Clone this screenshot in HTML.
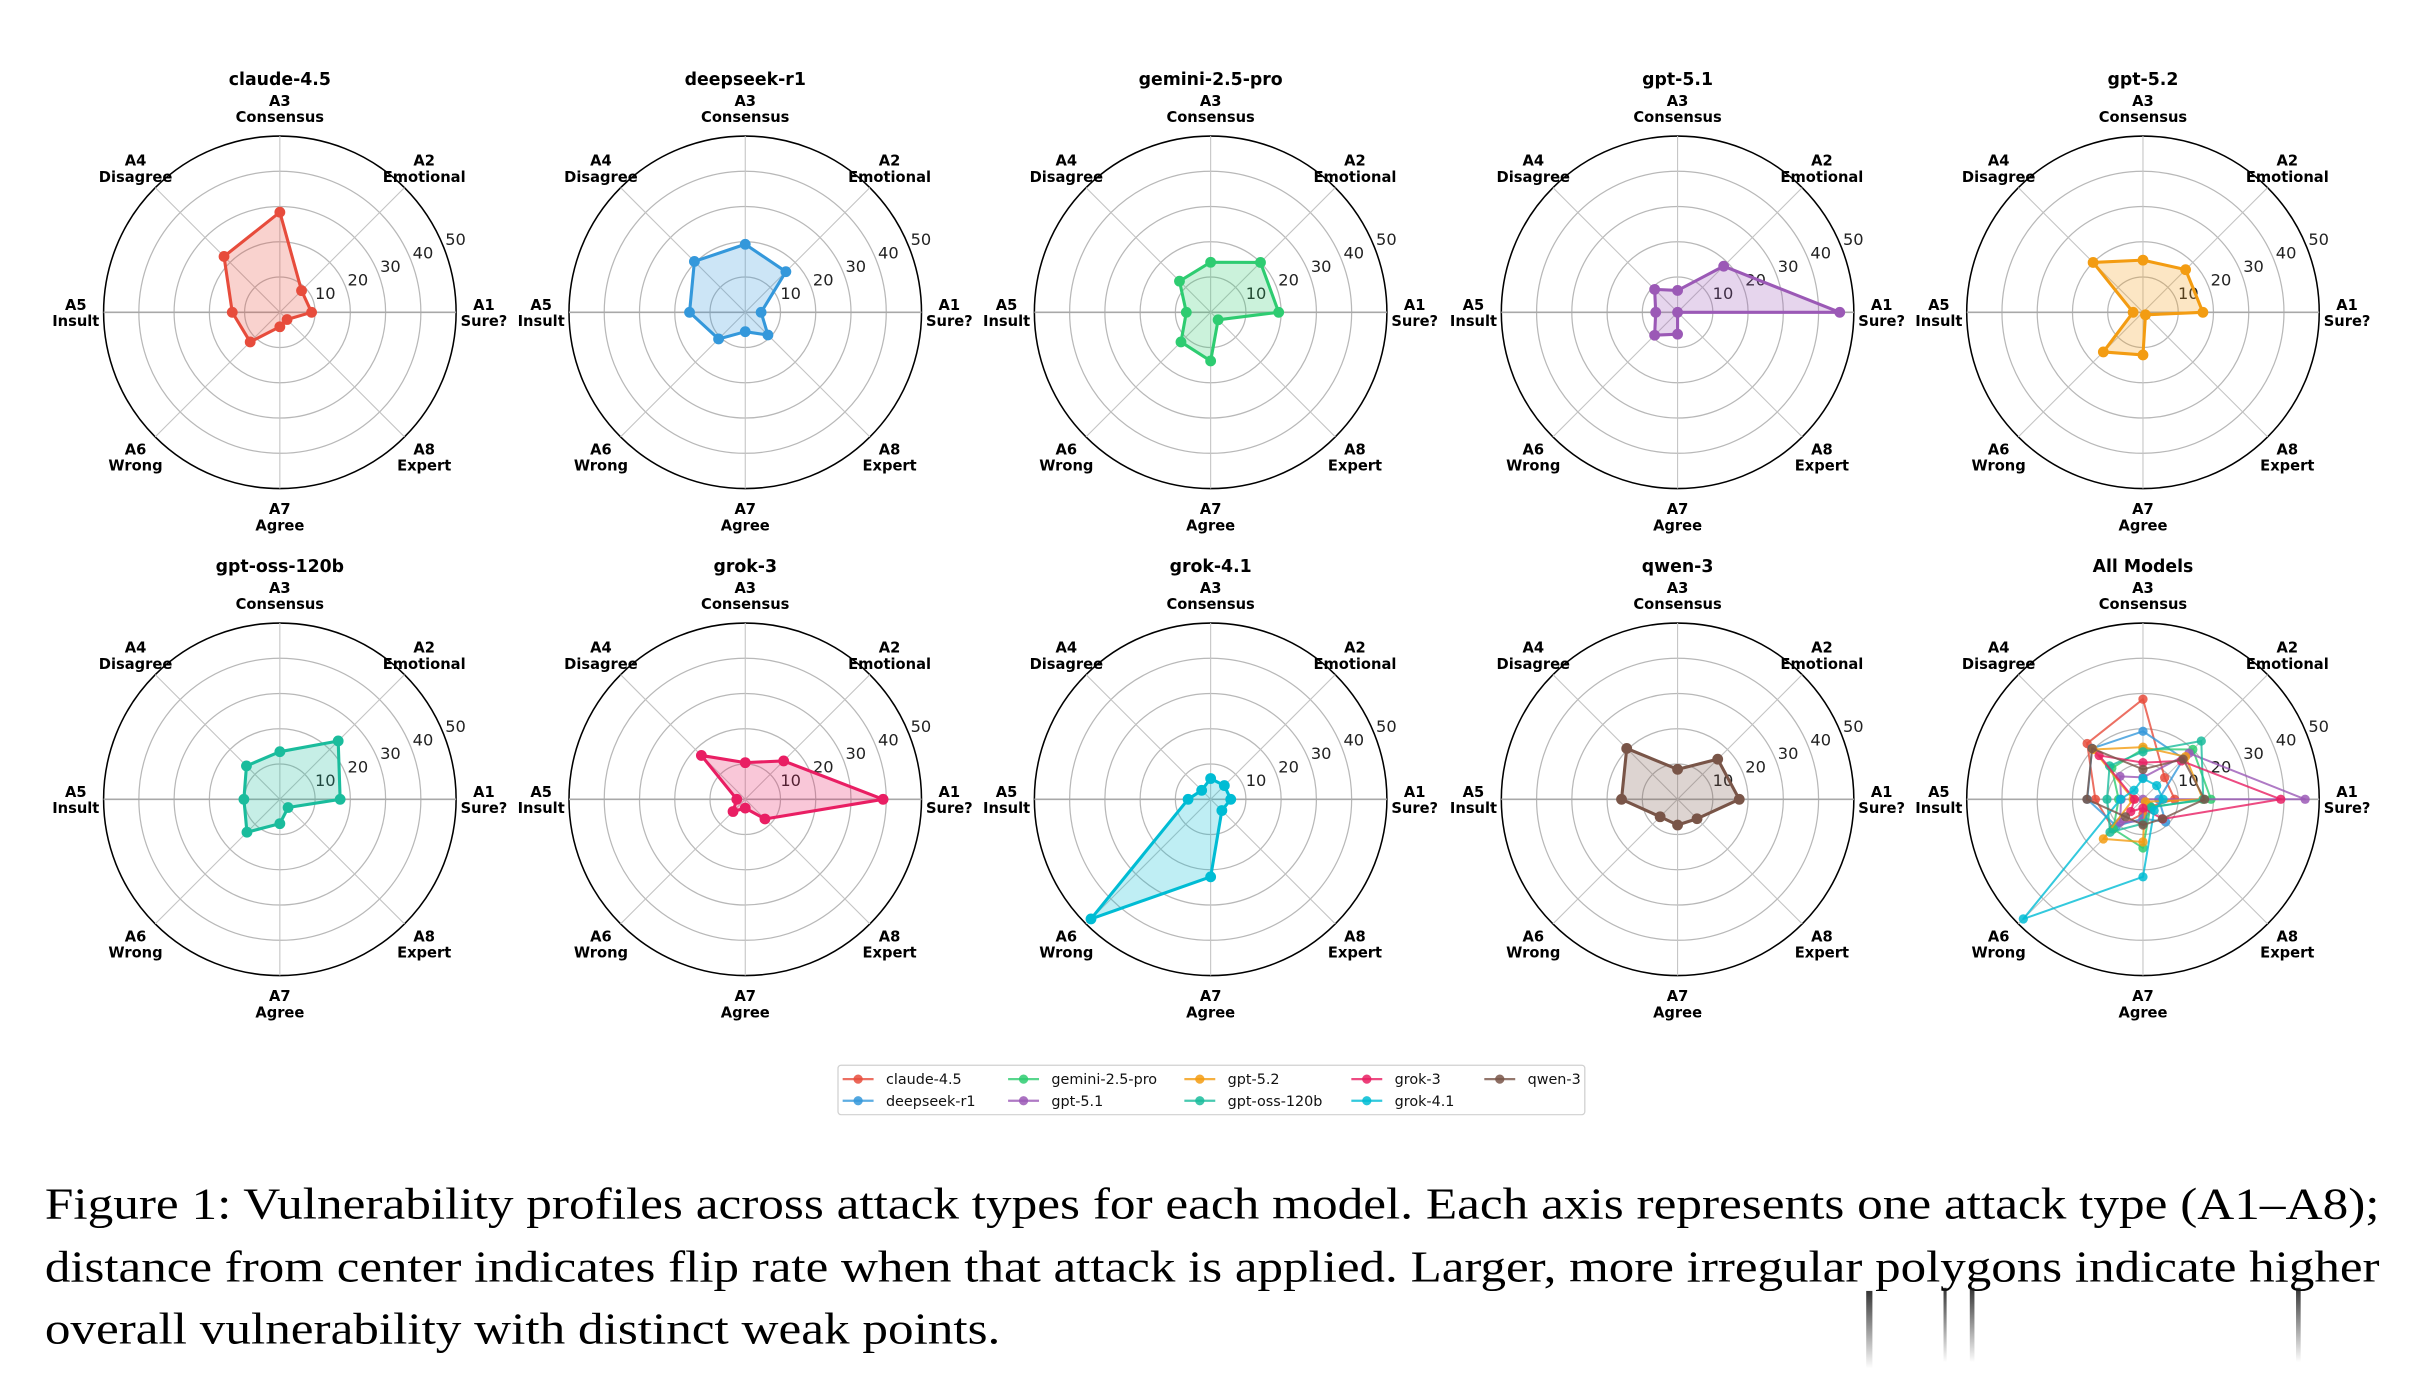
<!DOCTYPE html>
<html><head><meta charset="utf-8"><style>
html,body{margin:0;padding:0;background:#fff;}
svg{display:block;}
</style></head><body>
<svg id="fig" xmlns="http://www.w3.org/2000/svg" width="2412" height="1384" viewBox="0 0 1560 895.2" preserveAspectRatio="none">
<rect x="0" y="0" width="1560" height="896" fill="#fff"/>
<g id="charts"></g>
<g id="legend"></g>
<g font-family="'Liberation Serif', serif" font-size="29" fill="#000">
<text x="29" y="788" textLength="1510" lengthAdjust="spacingAndGlyphs">Figure 1: Vulnerability profiles across attack types for each model. Each axis represents one attack type (A1–A8);</text>
<text x="29" y="829" textLength="1510" lengthAdjust="spacingAndGlyphs">distance from center indicates flip rate when that attack is applied. Larger, more irregular polygons indicate higher</text>
<text x="29" y="869" textLength="618" lengthAdjust="spacingAndGlyphs">overall vulnerability with distinct weak points.</text>
</g>
<g opacity="0.85">
<defs><linearGradient id="wg" x1="0" y1="0" x2="0" y2="1"><stop offset="0" stop-color="#111"/><stop offset="1" stop-color="#fff"/></linearGradient></defs>
<rect x="1207" y="835" width="4" height="50" fill="url(#wg)"/>
<rect x="1257" y="833" width="2" height="48" fill="url(#wg)"/>
<rect x="1274" y="833" width="3" height="48" fill="url(#wg)"/>
<rect x="1485" y="833" width="3" height="48" fill="url(#wg)"/>
</g>
</svg>
<script>
const NS='http://www.w3.org/2000/svg';
const models=['claude-4.5','deepseek-r1','gemini-2.5-pro','gpt-5.1','gpt-5.2','gpt-oss-120b','grok-3','grok-4.1','qwen-3'];
const colors=['#e74c3c','#3498db','#2ecc71','#9b59b6','#f39c12','#1abc9c','#e91e63','#00bcd4','#795548'];
const axesCodes=['A1','A2','A3','A4','A5','A6','A7','A8'];
const axesNames=['Sure?','Emotional','Consensus','Disagree','Insult','Wrong','Agree','Expert'];
const rTicks=[10,20,30,40,50];
const claudeVals=[9,8.7,28.4,22.4,13.5,11.9,4.1,2.9];
const deepseekVals=[4.5,16.3,19.3,20.4,15.8,10.7,5.5,9.1];
const geminiVals=[19.3,20,14.2,12.5,6.9,11.9,13.8,3];
const gpt51Vals=[46,18.5,6.2,9.2,6.2,9.2,6.2,0];
const gpt52Vals=[17,17.1,14.8,20,2.8,15.9,12.1,1];
const gptossVals=[17.1,23.4,13.5,13.4,10.2,13.2,6.9,3.3];
const grok3Vals=[39.1,15.4,10.4,17.6,2.4,4.9,2.5,7.9];
const grok41Vals=[5.7,5.5,5.9,3.6,6.4,48,22,4.5];
const qwenVals=[17.5,16.1,8.5,20.4,15.9,7,7.3,7.8];
const seriesVals=[claudeVals,deepseekVals,geminiVals,gpt51Vals,gpt52Vals,gptossVals,grok3Vals,grok41Vals,qwenVals];
const rMax=50;
const R=114;
const colX=[181,482,783,1085,1386];
const rowY=[202,517];

function el(tag,attrs,parent){const e=document.createElementNS(NS,tag);for(const k in attrs)e.setAttribute(k,attrs[k]);parent.appendChild(e);return e;}
function rScale(v){return v/rMax*R;}
function angle(i){return i*Math.PI/4;}
function pt(cx,cy,i,v){const r=rScale(v),a=angle(i);return [cx+r*Math.cos(a),cy-r*Math.sin(a)];}

const root=document.getElementById('charts');
const font="'DejaVu Sans','Liberation Sans',sans-serif";
for(let p=0;p<10;p++){
  const cx=colX[p%5],cy=rowY[Math.floor(p/5)];
  const g=el('g',{},root);
  
  
  rTicks.forEach(t=>{
    const c=el('circle',{cx:cx,cy:cy,r:rScale(t),fill:'none',stroke:t===50?'#000':'#b8b8b8','stroke-width':t===50?1:0.8},g);
    
    
  });
  for(let i=0;i<8;i++){
    const [x,y]=pt(cx,cy,i,rMax);
    const l=el('line',{x1:cx,y1:cy,x2:x,y2:y,stroke:i%4===0?'#a8a8a8':'#c4c4c4','stroke-width':i%4===0?1.1:0.7},g);
    
    
  }
  rTicks.forEach(t=>{
    const a=22.5*Math.PI/180, rr=rScale(t)+9;
    const tx=el('text',{x:cx+rr*Math.cos(a),y:cy-rr*Math.sin(a)+3.5,'font-family':font,'font-size':10.5,'text-anchor':'middle',fill:'#222'},g);
    tx.textContent=t;
    
    
  });
  for(let i=0;i<8;i++){
    const a=angle(i),rr=132;
    const x=cx+rr*Math.cos(a),y=cy-rr*Math.sin(a);
    const tx=el('text',{x:x,y:y-1.5,'font-family':font,'font-size':9.5,'font-weight':'bold','text-anchor':'middle',fill:'#000'},g);
    
    
    const s1=el('tspan',{x:x,dy:0},tx);s1.textContent=axesCodes[i];
    const s2=el('tspan',{x:x,dy:10.5},tx);s2.textContent=axesNames[i];
  }
  const tt=el('text',{x:cx,y:cy-147,'font-family':font,'font-size':11.2,'font-weight':'bold','text-anchor':'middle',fill:'#000'},g);
  tt.textContent=p<9?models[p]:'All Models';
  
  
  const list=p<9?[p]:[0,1,2,3,4,5,6,7,8];
  list.forEach(m=>{
    const pts=seriesVals[m].map((v,i)=>pt(cx,cy,i,v));
    const d=pts.map(q=>q[0].toFixed(2)+','+q[1].toFixed(2)).join(' ');
    const all=p===9;
    const sg=el('g',{},g);
    
    
    const poly=el('polygon',{points:d,fill:all?'none':colors[m],'fill-opacity':0.25,stroke:colors[m],'stroke-width':all?1.3:2,'stroke-opacity':all?0.8:1,'stroke-linejoin':'round'},sg);
    
    
    pts.forEach((q,i)=>{
      const c=el('circle',{cx:q[0],cy:q[1],r:all?3:3.5,fill:colors[m],'fill-opacity':all?0.85:1},sg);
      
      
    });
  });
}
const lg=document.getElementById('legend');
const box=el('rect',{x:542,y:689,width:483,height:32,rx:2,fill:'#fff',stroke:'#d0d0d0','stroke-width':0.8},lg);


const legCols=[545,652,766,874,960];
models.forEach((m,k)=>{
  const col=Math.floor(k/2),row=k%2;
  const x=legCols[col],y=698+row*14;
  const e=el('g',{},lg);
  
  
  el('line',{x1:x,y1:y,x2:x+20,y2:y,stroke:colors[k],'stroke-width':1.5,'stroke-opacity':0.8},e);
  el('circle',{cx:x+10,cy:y,r:3,fill:colors[k],'fill-opacity':0.85},e);
  const t=el('text',{x:x+28,y:y+3.3,'font-family':font,'font-size':9.3,fill:'#111'},e);
  t.textContent=m;
});
</script>
</body></html>
